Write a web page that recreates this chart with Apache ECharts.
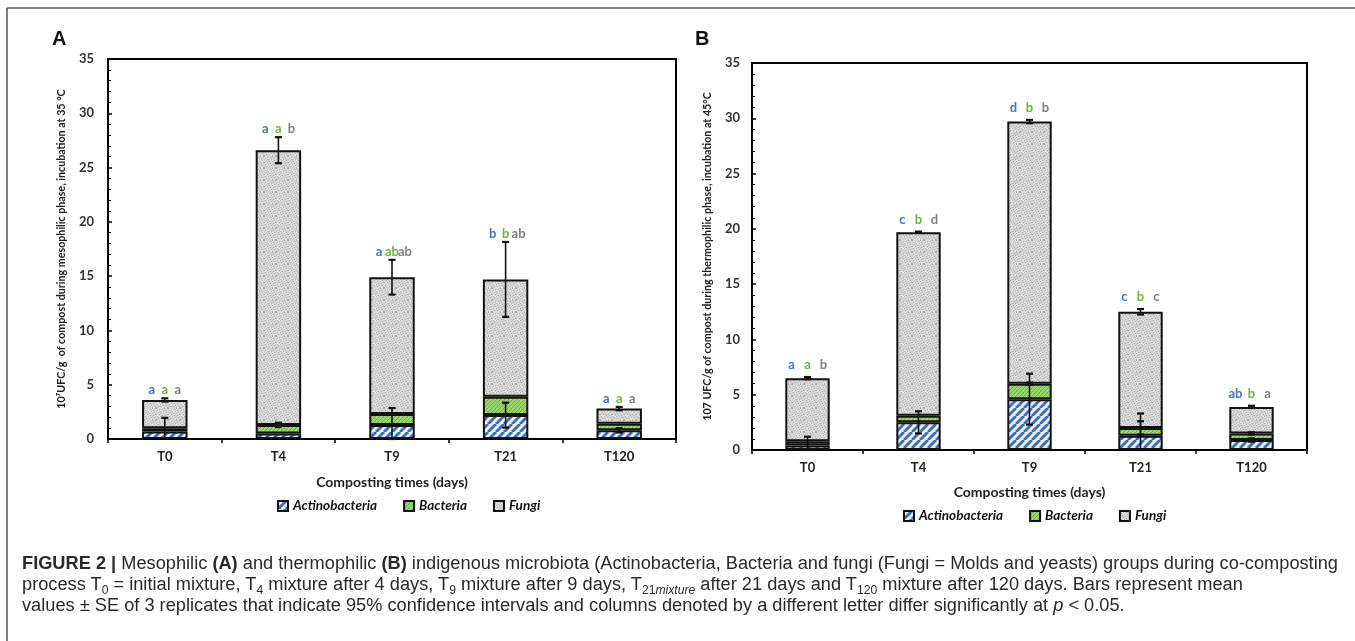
<!DOCTYPE html>
<html>
<head>
<meta charset="utf-8">
<script src="https://cdn.jsdelivr.net/npm/echarts@6/dist/echarts.min.js"></script>
<style>
html,body{margin:0;padding:0;background:#fff;width:1355px;height:641px;overflow:hidden}
#chart{position:absolute;left:0;top:0;width:1355px;height:641px}
.cap{position:absolute;left:22px;white-space:nowrap;font-family:"Liberation Sans Narrow","Liberation Sans",Arial,sans-serif;font-size:18px;color:#2a2a2a;transform-origin:0 50%;line-height:20px}
.cap sub{font-size:12px;vertical-align:-4px;line-height:0}
</style>
</head>
<body>
<div id="chart"></div>
<div class="cap" id="c1" style="top:553px"><b>FIGURE 2 |</b> Mesophilic <b>(A)</b> and thermophilic <b>(B)</b> indigenous microbiota (Actinobacteria, Bacteria and fungi (Fungi = Molds and yeasts) groups during co-composting</div>
<div class="cap" id="c2" style="top:574px">process T<sub>0</sub> = initial mixture, T<sub>4</sub> mixture after 4 days, T<sub>9</sub> mixture after 9 days, T<sub>21<i>mixture</i></sub> after 21 days and T<sub>120</sub> mixture after 120 days. Bars represent mean</div>
<div class="cap" id="c3" style="top:595px">values ± SE of 3 replicates that indicate 95% confidence intervals and columns denoted by a different letter differ significantly at <i>p</i> &lt; 0.05.</div>
<script>
// ---------- DATA ----------
const categories = ['T0', 'T4', 'T9', 'T21', 'T120'];
const yTicks = [0, 5, 10, 15, 20, 25, 30, 35];

// Panel A (mesophilic, 35 °C)
const actinoA   = [0.7, 0.5, 1.3, 2.2, 0.8];
const bacteriaA = [0.3, 0.8, 1.0, 1.7, 0.6];
const fungiA    = [2.6, 25.3, 12.6, 10.8, 1.4];
const actinoSeA   = [0, 0, 1.55, 1.15, 0.2];
const bacteriaSeA = [0.95, 0.2, 0, 0, 0];
const fungiSeA    = [0.15, 1.2, 1.6, 3.45, 0.15];
const lettersActinoA   = ['a', 'a', 'a', 'b', 'a'];
const lettersBacteriaA = ['a', 'a', 'ab', 'b', 'a'];
const lettersFungiA    = ['a', 'b', 'ab', 'ab', 'a'];

// Panel B (thermophilic, 45 °C)
const actinoB   = [0.4, 2.5, 4.6, 1.3, 0.9];
const bacteriaB = [0.4, 0.6, 1.4, 0.7, 0.6];
const fungiB    = [5.7, 16.6, 23.7, 10.5, 2.4];
const actinoSeB   = [0.8, 1.0, 2.3, 2.0, 0.15];
const bacteriaSeB = [0, 0, 0.1, 0.6, 0.1];
const fungiSeB    = [0.1, 0.05, 0.15, 0.25, 0.1];
const lettersActinoB   = ['a', 'c', 'd', 'c', 'ab'];
const lettersBacteriaB = ['a', 'b', 'b', 'b', 'b'];
const lettersFungiB    = ['b', 'd', 'b', 'c', 'a'];

const seriesNames = ['Actinobacteria', 'Bacteria', 'Fungi'];
const yNameA = '10\u2077UFC/g  of compost during mesophilic phase, incubation at 35 \u00B0C';
const yNameB = '107 UFC/g of compost during thermophilic phase, incubation at 45\u00B0C';
const xName = 'Composting times (days)';

// ---------- PATTERNS ----------
function makeTile(w, h, draw) {
  const c = document.createElement('canvas'); c.width = w; c.height = h;
  const ctx = c.getContext('2d'); draw(ctx, w, h); return c;
}
const actinoTile = makeTile(8, 8, (ctx, w, h) => {
  ctx.fillStyle = '#eef3fb'; ctx.fillRect(0, 0, w, h);
  ctx.strokeStyle = '#3f6fc2'; ctx.lineWidth = 3;
  for (let x = -8; x <= 8; x += 8) { ctx.beginPath(); ctx.moveTo(x, h); ctx.lineTo(x + w, 0); ctx.stroke(); }
});
const bacteriaTile = makeTile(4, 4, (ctx, w, h) => {
  ctx.fillStyle = '#9ad46c'; ctx.fillRect(0, 0, w, h);
  ctx.strokeStyle = '#6fb043'; ctx.lineWidth = 1;
  for (let x = -4; x <= 4; x += 4) { ctx.beginPath(); ctx.moveTo(x, h); ctx.lineTo(x + w, 0); ctx.stroke(); }
});
const fungiTile = makeTile(12, 12, (ctx, w, h) => {
  ctx.fillStyle = '#d6d6d6'; ctx.fillRect(0, 0, w, h);
  for (let i = 0; i < w; i++) for (let j = 0; j < h; j++) {
    const k = (i * 7 + j * 13) % 11;
    if (k < 2) { ctx.fillStyle = '#b0b0b0'; ctx.fillRect(i, j, 1, 1); }
    else if ((i * 5 + j * 3) % 13 === 0) { ctx.fillStyle = '#f2f2f2'; ctx.fillRect(i, j, 1, 1); }
  }
});
const fills = [
  { image: actinoTile, repeat: 'repeat' },
  { image: bacteriaTile, repeat: 'repeat' },
  { image: fungiTile, repeat: 'repeat' }
];
const letterColors = ['#4472c4', '#6fb043', '#808080'];

// ---------- BUILD ----------
const chart = echarts.init(document.getElementById('chart'), null, { renderer: 'canvas' });
const FONT = 'Lato, "Open Sans", sans-serif';

function yAxisCfg(gridIndex, name, nameGap, margin) {
  return {
    type: 'value', gridIndex, min: 0, max: 35, interval: 5,
    name, nameLocation: 'middle', nameGap, nameRotate: 90,
    nameTextStyle: { fontFamily: FONT, fontWeight: 'bold', fontSize: 10.7, color: '#222' },
    axisLine: { show: true, lineStyle: { color: '#000', width: 2 } },
    axisTick: { show: true, inside: true, length: 4, lineStyle: { color: '#000', width: 1.5 } },
    minorTick: { show: true, splitNumber: 5, length: 3, lineStyle: { color: '#000', width: 1 } },
    splitLine: { show: false },
    axisLabel: { fontFamily: FONT, fontWeight: 'bold', fontSize: 13, color: '#333', margin,
      formatter: v => (yTicks.indexOf(v) >= 0 ? String(v) : '') }
  };
}
function xAxisCfg(gridIndex, gap, margin) {
  return {
    type: 'category', gridIndex, data: categories,
    name: xName, nameLocation: 'middle', nameGap: gap,
    nameTextStyle: { fontFamily: FONT, fontWeight: 'bold', fontSize: 14, color: '#222' },
    axisLine: { show: true, lineStyle: { color: '#000', width: 2 } },
    axisTick: { show: true, alignWithLabel: false, inside: false, length: 4, lineStyle: { color: '#000', width: 1.5 } },
    axisLabel: { fontFamily: FONT, fontWeight: 'bold', fontSize: 13, color: '#222', margin }
  };
}

function barSeries(gi, stack, arrs) {
  return arrs.map((arr, i) => ({
    name: seriesNames[i], type: 'bar', stack, xAxisIndex: gi, yAxisIndex: gi,
    barWidth: '40%', data: arr,
    itemStyle: { color: fills[i], borderColor: '#111', borderWidth: 2 },
    emphasis: { disabled: true }
  }));
}

function errorSeries(gi, vals, ses) {
  const data = [];
  categories.forEach((c, ci) => {
    let cum = 0;
    vals.forEach((arr, si) => {
      cum += arr[ci];
      const se = ses[si][ci];
      if (se > 0) data.push([ci, cum, se]);
    });
  });
  return {
    type: 'custom', xAxisIndex: gi, yAxisIndex: gi, z: 10, silent: true,
    data,
    renderItem(params, api) {
      const ci = api.value(0), v = api.value(1), se = api.value(2);
      const lo = Math.max(0, v - se), hi = v + se;
      const pHi = api.coord([ci, hi]), pLo = api.coord([ci, lo]);
      const cap = 3.5;
      return { type: 'group', children: [
        { type: 'line', shape: { x1: pHi[0], y1: pHi[1], x2: pLo[0], y2: pLo[1] }, style: { stroke: '#111', lineWidth: 1.6 } },
        { type: 'line', shape: { x1: pHi[0] - cap, y1: pHi[1], x2: pHi[0] + cap, y2: pHi[1] }, style: { stroke: '#111', lineWidth: 2.2 } },
        { type: 'line', shape: { x1: pLo[0] - cap, y1: pLo[1], x2: pLo[0] + cap, y2: pLo[1] }, style: { stroke: '#111', lineWidth: 2.2 } }
      ]};
    }
  };
}

function letterSeries(gi, vals, topSe, letters, spread, gap) {
  const data = categories.map((c, ci) => {
    const total = vals.reduce((s, a) => s + a[ci], 0);
    return [ci, total + topSe[ci]];
  });
  return {
    type: 'custom', xAxisIndex: gi, yAxisIndex: gi, z: 11, silent: true,
    data,
    renderItem(params, api) {
      const ci = api.value(0), top = api.value(1);
      const p = api.coord([ci, top]);
      const children = letters.map((arr, k) => ({
        type: 'text',
        style: {
          text: arr[params.dataIndex], x: p[0] + (k - 1) * spread, y: p[1] - gap,
          fill: letterColors[k], font: 'bold 13px ' + FONT,
          align: 'center', verticalAlign: 'middle', textAlign: 'center', textVerticalAlign: 'middle'
        }
      }));
      return { type: 'group', children };
    }
  };
}

const valsA = [actinoA, bacteriaA, fungiA];
const valsB = [actinoB, bacteriaB, fungiB];
const legendText = { fontFamily: FONT, fontStyle: 'italic', fontWeight: 'bold', fontSize: 13.5, color: '#111' };

const option = {
  animation: false,
  backgroundColor: '#fff',
  grid: [
    { left: 108, top: 59, width: 568, height: 380, show: true, borderColor: '#000', borderWidth: 2, backgroundColor: 'transparent' },
    { left: 752, top: 63, width: 555, height: 387, show: true, borderColor: '#000', borderWidth: 2, backgroundColor: 'transparent' }
  ],
  xAxis: [xAxisCfg(0, 36, 11), xAxisCfg(1, 35, 11)],
  yAxis: [yAxisCfg(0, yNameA, 41, 14), yAxisCfg(1, yNameB, 39, 12)],
  legend: [
    { data: seriesNames, left: 277, top: 499, padding: 0, itemWidth: 10, itemHeight: 10, itemGap: 26, icon: 'rect',
      textStyle: legendText, selectedMode: false },
    { data: seriesNames, left: 903, top: 509, padding: 0, itemWidth: 10, itemHeight: 10, itemGap: 26, icon: 'rect',
      textStyle: legendText, selectedMode: false }
  ],
  graphic: [
    { type: 'line', shape: { x1: 7, y1: 8, x2: 1355, y2: 8 }, style: { stroke: '#555', lineWidth: 1.5 } },
    { type: 'line', shape: { x1: 7, y1: 8, x2: 7, y2: 641 }, style: { stroke: '#555', lineWidth: 1.5 } },
    { type: 'text', left: 52, top: 29, style: { text: 'A', font: 'bold 20px "Liberation Sans", Arial, sans-serif', fill: '#111' } },
    { type: 'text', left: 695, top: 29, style: { text: 'B', font: 'bold 20px "Liberation Sans", Arial, sans-serif', fill: '#111' } }
  ],
  series: [
    ...barSeries(0, 'A', valsA),
    ...barSeries(1, 'B', valsB),
    errorSeries(0, valsA, [actinoSeA, bacteriaSeA, fungiSeA]),
    errorSeries(1, valsB, [actinoSeB, bacteriaSeB, fungiSeB]),
    letterSeries(0, valsA, fungiSeA, [lettersActinoA, lettersBacteriaA, lettersFungiA], 13, 8),
    letterSeries(1, valsB, fungiSeB, [lettersActinoB, lettersBacteriaB, lettersFungiB], 16, 12)
  ]
};
chart.setOption(option);

// fit caption: one common horizontal scale so the first line spans the reference width
(function () {
  const first = document.getElementById('c1');
  const w = first.getBoundingClientRect().width;
  const s = w > 0 ? 1316 / w : 1;
  ['c1', 'c2', 'c3'].forEach(id => {
    document.getElementById(id).style.transform = 'scaleX(' + s + ')';
  });
})();
</script>
</body>
</html>
